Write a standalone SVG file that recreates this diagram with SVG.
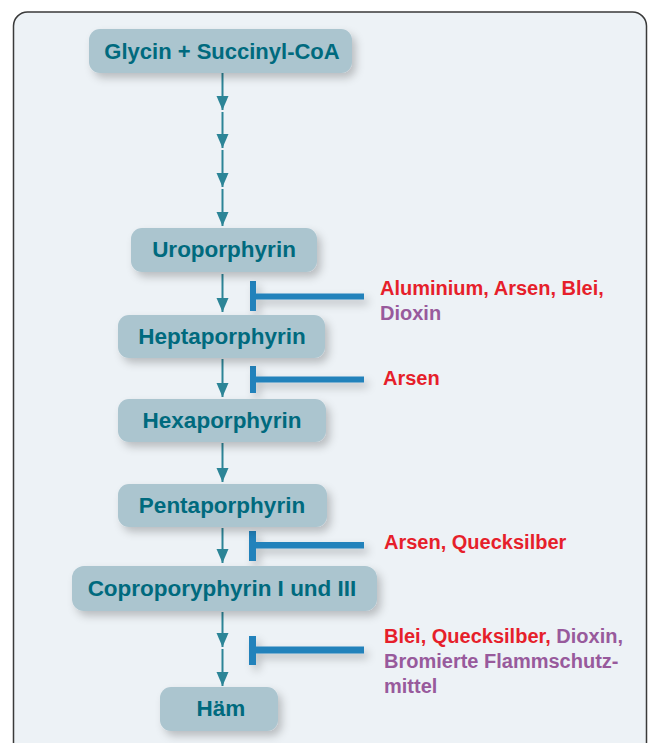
<svg xmlns="http://www.w3.org/2000/svg" width="651" height="743" viewBox="0 0 651 743">
<defs>
<style>
.node rect{fill:#abc5cf}
.node text{font-family:"Liberation Sans",Arial,sans-serif;font-weight:bold;font-size:22.5px;fill:#006a7e;text-anchor:middle}
.lbl{font-family:"Liberation Sans",Arial,sans-serif;font-weight:bold;font-size:20px}
.red{fill:#e61f2b}
.pur{fill:#985a9c}
.arr{stroke:#2c8597;stroke-width:2;fill:none;marker-end:url(#ah)}
.inh{fill:#2382bb}
</style>
<filter id="sh" x="-20%" y="-30%" width="150%" height="180%">
<feDropShadow dx="4" dy="5" stdDeviation="4" flood-color="#000" flood-opacity="0.22"/>
</filter>
<marker id="ah" markerUnits="userSpaceOnUse" markerWidth="14" markerHeight="16" refX="14" refY="6" orient="auto" viewBox="0 0 14 12">
<path d="M0,0 L14,6 L0,12 Z" fill="#2c8597"/>
</marker>
</defs>
<rect x="13.5" y="12" width="633" height="760" rx="14" fill="#edf2f6" stroke="#3a3a3a" stroke-width="1.5"/>
<g id="connectors">
<line class="arr" x1="222.5" y1="73" x2="222.5" y2="110"/>
<line class="arr" x1="222.5" y1="112" x2="222.5" y2="148"/>
<line class="arr" x1="222.5" y1="150" x2="222.5" y2="187"/>
<line class="arr" x1="222.5" y1="189" x2="222.5" y2="226"/>
<line class="arr" x1="222.5" y1="274" x2="222.5" y2="312"/>
<line class="arr" x1="222.5" y1="359" x2="222.5" y2="397"/>
<line class="arr" x1="222.5" y1="443" x2="222.5" y2="482"/>
<line class="arr" x1="222.5" y1="528" x2="222.5" y2="563"/>
<line class="arr" x1="222.5" y1="612" x2="222.5" y2="647"/>
<line class="arr" x1="222.5" y1="649" x2="222.5" y2="686"/>
<g filter="url(#sh)">
<path class="inh" d="M250,281 h6 v12.5 h108 v6 h-108 v11.5 h-6 Z"/>
<path class="inh" d="M250,366 h6 v10.5 h108 v6 h-108 v10.5 h-6 Z"/>
<path class="inh" d="M249,531 h7 v11 h108 v6.5 h-108 v12.5 h-7 Z"/>
<path class="inh" d="M249,636 h7 v10.5 h108 v7 h-108 v11.5 h-7 Z"/>
</g>
</g>
<g id="n1" class="node"><rect x="89" y="29" width="263" height="44" rx="11" filter="url(#sh)"/><text x="222" y="58.5" style="font-size:22px">Glycin + Succinyl-CoA</text></g>
<g id="n2" class="node"><rect x="131" y="228" width="186" height="44" rx="11" filter="url(#sh)"/><text x="224" y="257">Uroporphyrin</text></g>
<g id="n3" class="node"><rect x="118" y="315" width="207" height="43" rx="11" filter="url(#sh)"/><text x="222" y="344">Heptaporphyrin</text></g>
<g id="n4" class="node"><rect x="118" y="399" width="208" height="43" rx="11" filter="url(#sh)"/><text x="222" y="428">Hexaporphyrin</text></g>
<g id="n5" class="node"><rect x="118" y="484" width="209" height="43" rx="11" filter="url(#sh)"/><text x="222" y="513">Pentaporphyrin</text></g>
<g id="n6" class="node"><rect x="72" y="566" width="305" height="45" rx="12" filter="url(#sh)"/><text x="222" y="596">Coproporyphyrin I und III</text></g>
<g id="n7" class="node"><rect x="160" y="687" width="118" height="44" rx="11" filter="url(#sh)"/><text x="221" y="716">Häm</text></g>
<g id="labels">
<text class="lbl" x="380" y="295"><tspan class="red">Aluminium, Arsen, Blei,</tspan><tspan class="pur" x="380" y="320">Dioxin</tspan></text>
<text class="lbl red" x="383" y="385">Arsen</text>
<text class="lbl red" x="384" y="549">Arsen, Quecksilber</text>
<text class="lbl" x="384" y="643"><tspan class="red">Blei, Quecksilber,</tspan><tspan class="pur"> Dioxin,</tspan><tspan class="pur" x="384" y="668">Bromierte Flammschutz-</tspan><tspan class="pur" x="384" y="693">mittel</tspan></text>
</g>
</svg>
